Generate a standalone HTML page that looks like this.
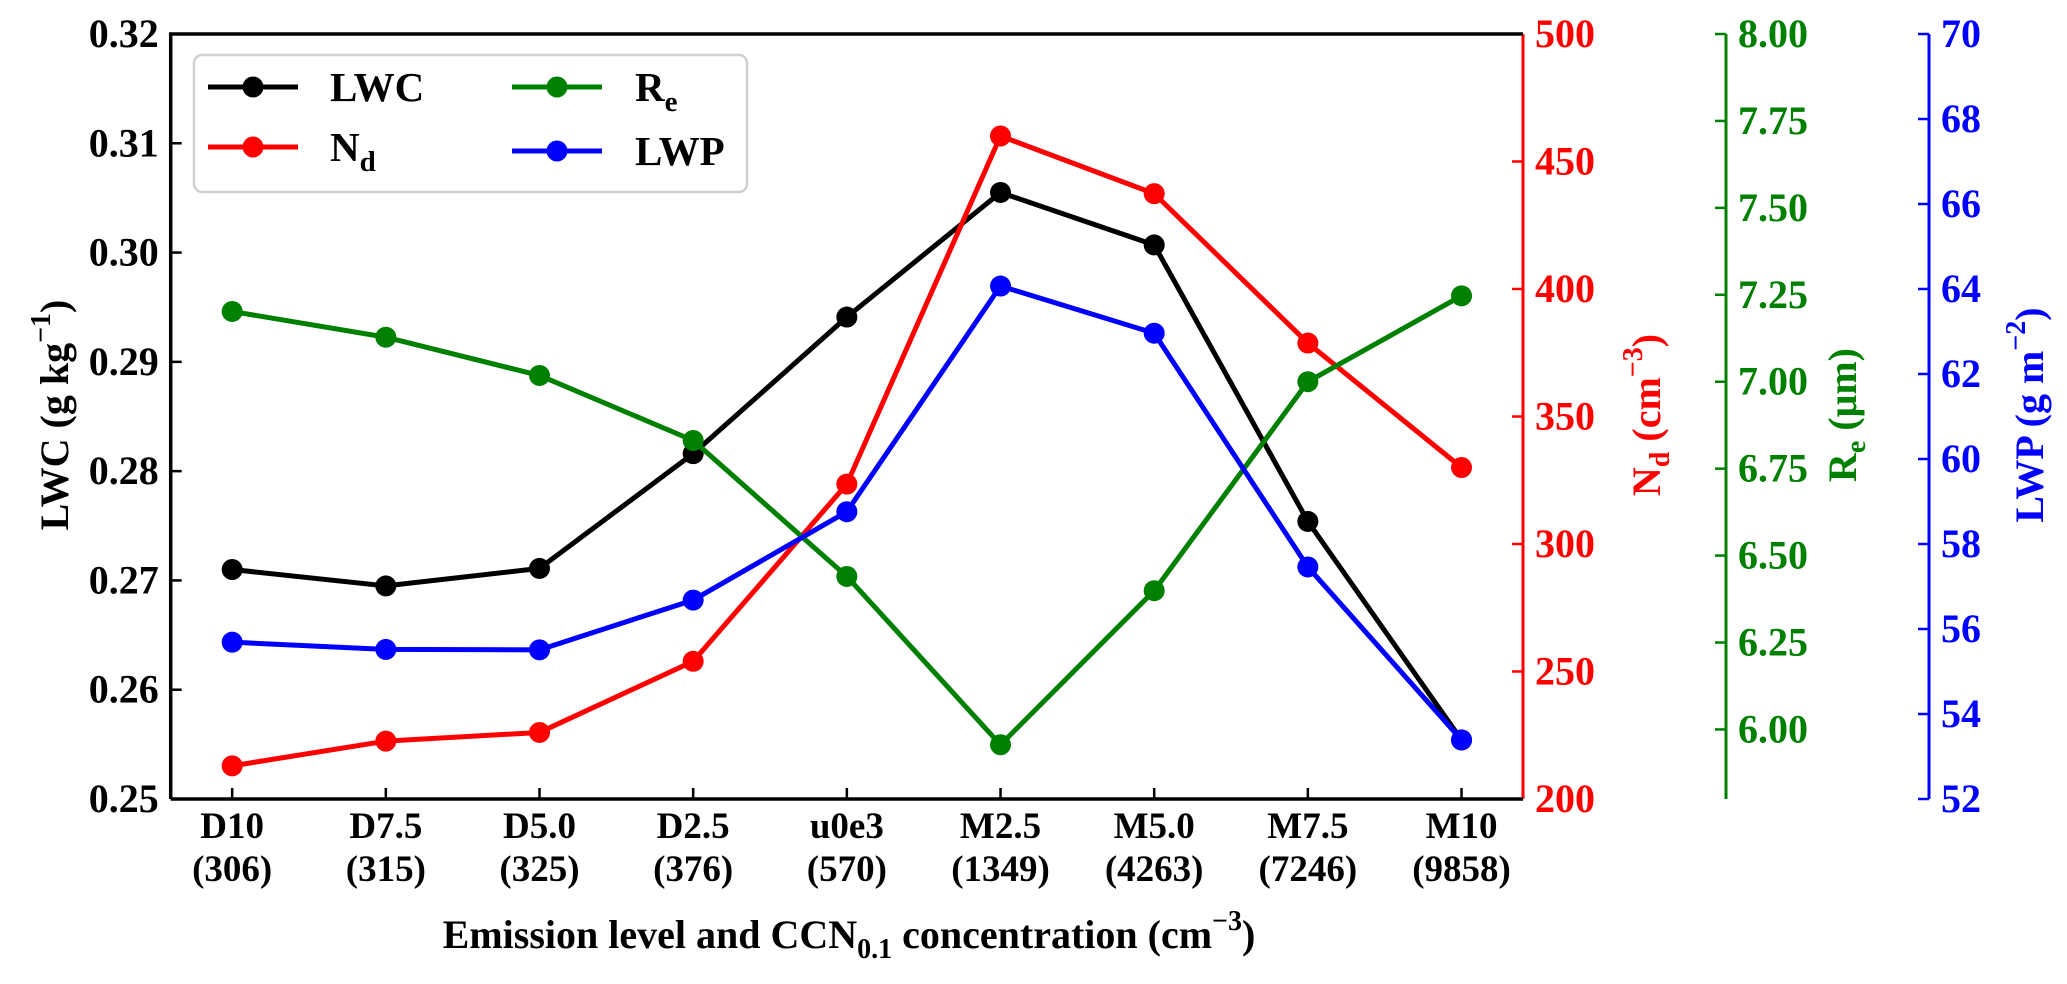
<!DOCTYPE html>
<html><head><meta charset="utf-8"><style>
html,body{margin:0;padding:0;background:#fff;}
svg, svg text, svg tspan{font-family:"Liberation Serif","DejaVu Serif","Times New Roman",Times,serif !important;font-weight:bold;}
</style></head><body>
<svg id="chart" width="2067" height="979" viewBox="0 0 2067 979" xmlns="http://www.w3.org/2000/svg">
<g id="content"></g>
</svg>
<script>
const categories = ["D10","D7.5","D5.0","D2.5","u0e3","M2.5","M5.0","M7.5","M10"];
const ccnLabels = ["(306)","(315)","(325)","(376)","(570)","(1349)","(4263)","(7246)","(9858)"];
const lwcValues = [0.2710,0.2695,0.2711,0.2816,0.2941,0.3055,0.3007,0.2754,0.2554];
const ndValues = [213.0,222.7,226.1,254.0,323.5,460.0,437.4,378.8,330.0];
const reValues = [7.202,7.128,7.018,6.831,6.440,5.956,6.399,7.000,7.247];
const lwpValues = [55.69,55.52,55.51,56.68,58.76,64.07,62.96,57.46,53.39];
const lwcTicks = ["0.25","0.26","0.27","0.28","0.29","0.30","0.31","0.32"];
const ndTicks = ["200","250","300","350","400","450","500"];
const reTicks = ["6.00","6.25","6.50","6.75","7.00","7.25","7.50","7.75","8.00"];
const lwpTicks = ["52","54","56","58","60","62","64","66","68","70"];

const NS="http://www.w3.org/2000/svg";
const root=document.getElementById('content');
const L=170.7,R=1523,T=34,B=799;
const xs=i=>L+(i+0.4)*(R-L)/8.8;
const lin=(d0,d1)=>v=>B-(v-d0)/(d1-d0)*(B-T);
const yL=lin(0.25,0.32), yN=lin(200,500), yRe=lin(5.8,8.0), yP=lin(52,70);
function mk(tag,attrs,parent){const e=document.createElementNS(NS,tag);for(const k in attrs)e.setAttribute(k,attrs[k]);(parent||root).appendChild(e);return e;}

lwcTicks.forEach(t=>{const y=yL(parseFloat(t));
 const l=mk('line',{x1:L,x2:L+11,y1:y,y2:y,stroke:'#000','stroke-width':2.5});
 
 
 const tx=mk('text',{x:L-12,y:y+13,'text-anchor':'end','font-size':40,fill:'#000'});tx.textContent=t;
 
 
});
categories.forEach((c,i)=>{const x=xs(i);
 const l=mk('line',{x1:x,x2:x,y1:B,y2:B-11,stroke:'#000','stroke-width':2.5});
 
 
 const t1=mk('text',{x:x,y:838,'text-anchor':'middle','font-size':37});t1.textContent=c;
 
 
 const t2=mk('text',{x:x,y:881,'text-anchor':'middle','font-size':37});t2.textContent=ccnLabels[i];
 
 
});
function rightAxis(x,ticks,scale,color,name){
 const s=mk('line',{x1:x,x2:x,y1:T,y2:B,stroke:color,'stroke-width':3});
 
 
 ticks.forEach(t=>{const y=scale(parseFloat(t));
  const l=mk('line',{x1:x-11,x2:x,y1:y,y2:y,stroke:color,'stroke-width':2.5});
  
  
  const tx=mk('text',{x:x+12,y:y+13,'font-size':40,fill:color});tx.textContent=t;
  
  
 });
}
rightAxis(R,ndTicks,yN,'#ff0000','nd-axis');
rightAxis(1726,reTicks,yRe,'#008000','re-axis');
rightAxis(1929,lwpTicks,yP,'#0000ff','lwp-axis');

const fr=mk('path',{d:`M${L},${B}L${L},${T}L${R},${T}M${L},${B}L${R},${B}`,fill:'none',stroke:'#000','stroke-width':3.5});



function series(vals,scale,color,name){
 const pts=vals.map((v,i)=>xs(i)+','+scale(v)).join(' ');
 const pl=mk('polyline',{points:pts,fill:'none',stroke:color,'stroke-width':5,'stroke-linejoin':'round'});
 
 
 vals.forEach((v,i)=>{const c=mk('circle',{cx:xs(i),cy:scale(v),r:10.5,fill:color});
  
  
 });
}
series(lwcValues,yL,'#000000','lwc');
series(ndValues,yN,'#ff0000','nd');
series(reValues,yRe,'#008000','re');
series(lwpValues,yP,'#0000ff','lwp');
</script>
<script>
(function(){
const svg=document.getElementById('chart');
svg.insertAdjacentHTML('beforeend',`
<g>
 <rect x="194" y="55" width="553" height="137" rx="8" fill="#fff" fill-opacity="0.8" stroke="#d0d0d0" stroke-width="2.5"/>
 <g><line x1="208" x2="298" y1="87" y2="87" stroke="#000" stroke-width="5"/><circle cx="253" cy="87" r="10.5" fill="#000"/><text x="330" y="101" font-size="41">LWC</text></g>
 <g><line x1="208" x2="298" y1="147" y2="147" stroke="#f00" stroke-width="5"/><circle cx="253" cy="147" r="10.5" fill="#f00"/><text x="330" y="161" font-size="41">N<tspan font-size="29" dy="10">d</tspan></text></g>
 <g><line x1="512" x2="602" y1="87" y2="87" stroke="#008000" stroke-width="5"/><circle cx="557" cy="87" r="10.5" fill="#008000"/><text x="635" y="101" font-size="41">R<tspan font-size="29" dy="10">e</tspan></text></g>
 <g><line x1="512" x2="602" y1="151" y2="151" stroke="#00f" stroke-width="5"/><circle cx="557" cy="151" r="10.5" fill="#00f"/><text x="635" y="165" font-size="41">LWP</text></g>
</g>
<text transform="translate(68,415) rotate(-90)" text-anchor="middle" font-size="40">LWC (g kg<tspan font-size="28" dy="-18">−1</tspan><tspan dy="18">)</tspan></text>
<text transform="translate(1660,415) rotate(-90)" text-anchor="middle" font-size="40" fill="#f00">N<tspan font-size="28" dy="9">d</tspan><tspan dy="-9"> (cm</tspan><tspan font-size="28" dy="-18">−3</tspan><tspan dy="18">)</tspan></text>
<text transform="translate(1856,415) rotate(-90)" text-anchor="middle" font-size="40" fill="#008000">R<tspan font-size="28" dy="9">e</tspan><tspan dy="-9"> (μm)</tspan></text>
<text transform="translate(2043,415) rotate(-90)" text-anchor="middle" font-size="40" fill="#00f">LWP (g m<tspan font-size="28" dy="-18">−2</tspan><tspan dy="18">)</tspan></text>
<text x="849" y="948" text-anchor="middle" font-size="40">Emission level and CCN<tspan font-size="28" dy="10">0.1</tspan><tspan dy="-10"> concentration (cm</tspan><tspan font-size="28" dy="-18">−3</tspan><tspan dy="18">)</tspan></text>
`);
})();
</script>
</body></html>
